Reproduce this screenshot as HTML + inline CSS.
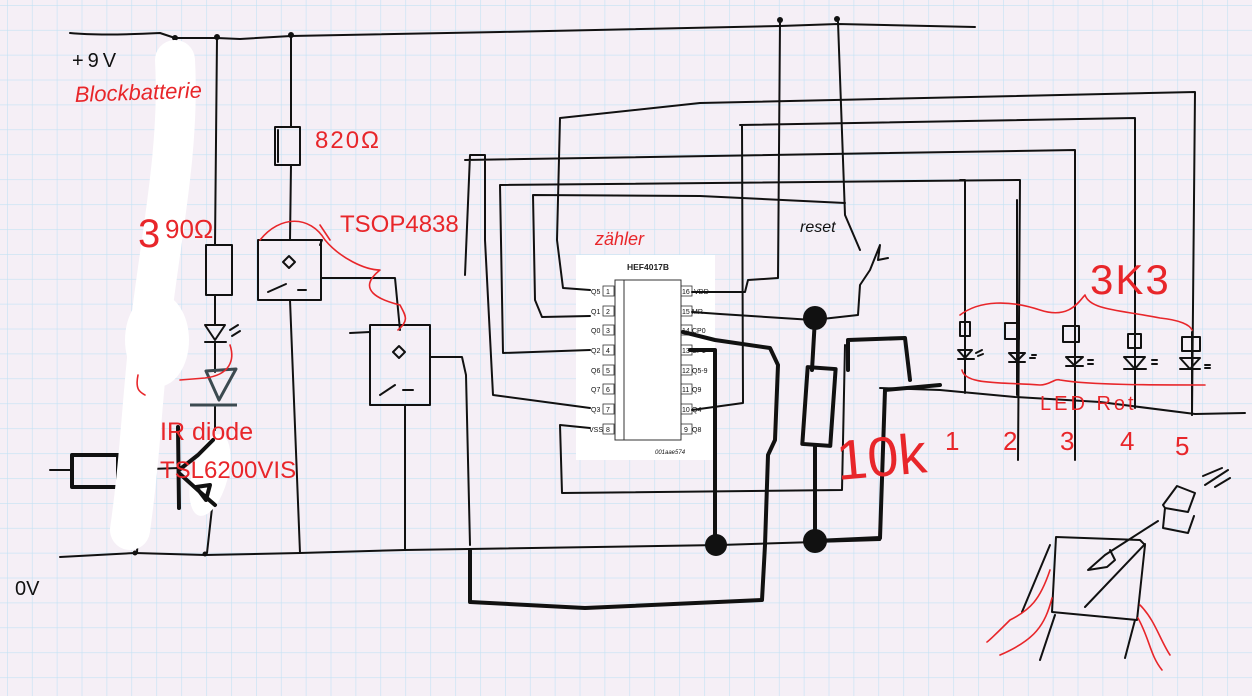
<!DOCTYPE html>
<html><head><meta charset="utf-8"><style>
html,body{margin:0;padding:0;background:#f5eff6;}
svg{display:block}
.k{fill:none;stroke:#111;stroke-width:2;stroke-linecap:round;stroke-linejoin:round}
.kb{fill:none;stroke:#111;stroke-width:4;stroke-linecap:round;stroke-linejoin:round}
.r{fill:none;stroke:#e8262a;stroke-width:1.6;stroke-linecap:round;stroke-linejoin:round}
.rt{fill:#e8262a;font-family:"Liberation Sans",sans-serif}
.ct{font-family:"Liberation Sans",sans-serif;font-size:7px;fill:#111}
</style></head><body>
<svg width="1252" height="696" viewBox="0 0 1252 696" xmlns="http://www.w3.org/2000/svg">
<defs>
<pattern id="g" x="7" y="5" width="24.9" height="24.9" patternUnits="userSpaceOnUse">
<path d="M0 0H24.9M0 0V24.9" stroke="#c3e2f4" stroke-width="1.2" fill="none"/>
</pattern>
</defs>
<rect width="1252" height="696" fill="#f5eff6"/>
<rect width="1252" height="696" fill="url(#g)"/>

<!-- rails -->
<path class="k" d="M70 33 Q100 36 160 33 L175 38 L217 38 L240 39 L291 36 L500 32 L780 26 L838 24 L975 27"/>
<path class="k" d="M60 557 L135 553 L205 555 L300 553 L405 550 L720 545 L815 542 L880 540"/>
<circle cx="175" cy="38" r="3" fill="#111"/><circle cx="217" cy="37" r="3" fill="#111"/><circle cx="291" cy="35" r="3" fill="#111"/>
<circle cx="780" cy="20" r="3" fill="#111"/><circle cx="837" cy="19" r="3" fill="#111"/>
<circle cx="135" cy="553" r="2.5" fill="#111"/><circle cx="205" cy="554" r="2.5" fill="#111"/>

<!-- left verticals -->
<path class="k" d="M217 38 L215 245 M215 295 L215 325 M215 342 L215 372 M215 405 L215 430"/>
<path class="k" d="M291 36 L291 127 M291 165 L290 240 M290 300 L300 553"/>
<path class="k" d="M175 40 L172 200 M138 530 L137 553"/>
<!-- 390 resistor -->
<rect class="k" x="206" y="245" width="26" height="50"/>
<!-- small LED -->
<path class="k" d="M205 325 L225 325 L215 340 Z M205 342 L226 342 M230 330 l8 -5 M232 336 l8 -5"/>
<!-- IR diode -->
<path d="M206 371 L236 369 L219 400 Z" fill="none" stroke="#3c4a50" stroke-width="3" stroke-linejoin="round"/>
<path d="M190 405 L237 405" stroke="#3c4a50" stroke-width="3" fill="none"/>
<!-- red arc near IR diode -->
<path class="r" d="M230 345 C235 360 230 375 205 378 L180 380"/>
<!-- transistor -->
<path class="k" d="M50 470 L72 470 M118 470 L180 468 M212 508 L207 553"/>
<rect class="kb" x="72" y="455" width="46" height="32"/>

<!-- white blob -->
<path d="M175 60 C180 150 160 240 150 330 C142 400 140 460 130 530" fill="none" stroke="#ffffff" stroke-width="40" stroke-linecap="round"/>
<ellipse cx="157" cy="340" rx="32" ry="47" fill="#fff"/>
<ellipse cx="210" cy="475" rx="18" ry="42" fill="#fff" transform="rotate(15 210 475)"/>

<path class="kb" d="M178 427 L179 508 M179 470 L198 455 L213 440"/>
<path class="kb" d="M180 474 L200 492 L215 505 M196 487 L210 485 L206 500 Z"/>

<!-- 820 resistor -->
<rect class="k" x="275" y="127" width="25" height="38"/>
<path class="k" d="M278 130 L278 162"/>
<!-- TSOP 1 -->
<rect class="k" x="258" y="240" width="63" height="60"/>
<path class="k" d="M283 262 l6 -6 l6 6 l-6 6 Z M268 292 l18 -8 M298 290 l8 0"/>
<path class="k" d="M321 278 L395 278 L400 330 M320 245 L322 240"/>
<!-- TSOP 2 -->
<rect class="k" x="370" y="325" width="60" height="80"/>
<path class="k" d="M393 352 l6 -6 l6 6 l-6 6 Z M380 395 l15 -10 M403 390 l10 0"/>
<path class="k" d="M430 357 L462 357 L466 375 L470 545 M405 405 L405 550 M350 333 L370 332"/>

<!-- chip -->
<rect x="576" y="255" width="139" height="205" fill="#ffffff"/>
<text x="627" y="270" font-family="Liberation Sans,sans-serif" font-size="8.5" font-weight="bold" fill="#222">HEF4017B</text>
<rect x="615" y="280" width="66" height="160" fill="none" stroke="#333" stroke-width="1"/>
<path d="M624 280 V440" stroke="#333" stroke-width="1"/>
<g class="ct">
<text x="591" y="294">Q5</text><text x="591" y="314">Q1</text><text x="591" y="333">Q0</text><text x="591" y="353">Q2</text>
<text x="591" y="373">Q6</text><text x="591" y="392">Q7</text><text x="591" y="412">Q3</text><text x="589" y="432">VSS</text>
<text x="694" y="294">VDD</text><text x="692" y="314">MR</text><text x="692" y="333">CP0</text><text x="692" y="353">CP1</text>
<text x="692" y="373">Q5-9</text><text x="692" y="392">Q9</text><text x="692" y="412">Q4</text><text x="692" y="432">Q8</text>
<text x="655" y="454" font-style="italic" font-size="6">001aae574</text>
</g>
<g fill="none" stroke="#333" stroke-width="0.8">
<rect x="603" y="286" width="11" height="10"/><rect x="603" y="306" width="11" height="10"/><rect x="603" y="325" width="11" height="10"/><rect x="603" y="345" width="11" height="10"/>
<rect x="603" y="365" width="11" height="10"/><rect x="603" y="384" width="11" height="10"/><rect x="603" y="404" width="11" height="10"/><rect x="603" y="424" width="11" height="10"/>
<rect x="681" y="286" width="11" height="10"/><rect x="681" y="306" width="11" height="10"/><rect x="681" y="325" width="11" height="10"/><rect x="681" y="345" width="11" height="10"/>
<rect x="681" y="365" width="11" height="10"/><rect x="681" y="384" width="11" height="10"/><rect x="681" y="404" width="11" height="10"/><rect x="681" y="424" width="11" height="10"/>
</g>
<g class="ct"><text x="606" y="294">1</text><text x="606" y="314">2</text><text x="606" y="333">3</text><text x="606" y="353">4</text><text x="606" y="373">5</text><text x="606" y="392">6</text><text x="606" y="412">7</text><text x="606" y="432">8</text>
<text x="682" y="294">16</text><text x="682" y="314">15</text><text x="682" y="333">14</text><text x="682" y="353">13</text><text x="682" y="373">12</text><text x="682" y="392">11</text><text x="682" y="412">10</text><text x="684" y="432">9</text></g>

<!-- wires around chip -->
<path class="k" d="M590 290 L563 288 L557 240 L560 118 L700 103 L1195 92 L1192 415"/>
<path class="k" d="M590 316 L542 317 L535 300 L533 195 L700 196 L845 203"/>
<path class="k" d="M590 350 L503 353 L500 185 L1020 180 L1018 460"/>
<path class="k" d="M590 408 L493 395 L485 240 L485 155 L470 155 L465 275 M465 160 L1075 150 L1075 460"/>
<path class="k" d="M590 428 L560 425 L562 493 L842 490 L845 345"/>
<path class="k" d="M740 125 L1135 118 L1135 345 M742 126 L743 403 L692 410"/>
<path class="k" d="M692 292 L745 292 L748 280 L778 278 L780 22"/>
<path class="k" d="M692 312 L720 314 L813 320 L858 315 L860 285 L870 270 L880 245 L878 260 L888 258"/>
<path class="k" d="M838 22 L845 215 L860 250"/>
<path class="k" d="M965 180 L965 325 M960 180 L965 180"/>
<!-- thick wires -->
<path class="kb" d="M683 332 L715 340 L770 348 L778 365 L775 440 L768 455 L765 545 L762 600 L585 608 L470 602 L470 550"/>
<path class="kb" d="M690 350 L715 350 L715 545"/>
<path class="kb" d="M815 318 L812 370 M815 445 L815 541 M815 541 L880 538 L885 390 L940 385 M848 370 L848 340 L905 338 L910 380"/>
<rect class="kb" x="805" y="368" width="28" height="77" transform="rotate(4 819 406)"/>
<circle cx="815" cy="318" r="12" fill="#111"/><circle cx="815" cy="541" r="12" fill="#111"/><circle cx="716" cy="545" r="11" fill="#111"/>
<path class="k" d="M880 388 L940 390 L1015 397 L1100 402 L1195 414 L1245 413"/>

<!-- LED columns -->
<g class="k">
<path d="M965 325 L965 393 M1017 200 L1017 395 M1075 345 L1075 398 M1135 345 L1135 408 M1192 332 L1192 415"/>
<rect x="960" y="322" width="10" height="14"/><rect x="1005" y="323" width="14" height="16"/><rect x="1063" y="326" width="16" height="16"/><rect x="1128" y="334" width="13" height="14"/><rect x="1182" y="337" width="18" height="14"/>
<path d="M958 350 L972 350 L965 358 Z M958 359 L974 359 M976 353 l6 -3 M978 356 l5 -2"/>
<path d="M1009 353 L1025 353 L1017 361 Z M1009 362 L1025 362 M1030 358 l5 0 M1032 355 l4 0"/>
<path d="M1066 357 L1083 357 L1074 365 Z M1066 366 L1083 366 M1088 360 l5 0 M1088 364 l5 0"/>
<path d="M1124 357 L1145 357 L1135 369 Z M1124 369 L1146 369 M1152 360 l5 0 M1152 364 l5 0"/>
<path d="M1180 358 L1200 358 L1190 369 Z M1180 369 L1200 369 M1205 365 l5 0 M1205 368 l5 0"/>
</g>

<!-- bottom right LED drawing -->
<g class="k">
<path d="M1056 537 L1140 540 L1145 545 L1137 620 L1052 612 Z M1050 545 L1022 612 M1055 615 L1040 660 M1135 620 L1125 658"/>
<path d="M1085 607 L1145 544 M1110 550 L1115 560 L1107 567 L1088 570 L1105 555 L1158 521"/>
<path d="M1163 505 L1177 486 L1195 493 L1188 512 L1165 508 Z M1165 508 L1163 528 L1188 533 L1194 516 M1203 476 L1222 468 M1205 485 L1228 470 M1215 487 L1230 478"/>
</g>
<g class="r">
<path d="M1050 570 C1040 600 1030 610 1010 620 C1000 630 990 640 987 642 M1052 598 C1045 625 1035 640 1000 655 M1140 605 C1155 620 1160 640 1170 655 M1138 618 C1150 640 1150 655 1162 670"/>
</g>

<!-- red labels -->
<g class="r" stroke-width="1.5">
<path d="M960 315 C980 300 1010 300 1040 310 C1070 320 1080 300 1085 295 C1090 310 1120 310 1160 318 C1180 320 1190 325 1192 330"/>
<path d="M962 370 C965 385 1000 382 1040 385 C1050 385 1055 378 1060 380 C1090 385 1150 385 1205 385"/>
<path d="M260 240 C280 215 310 215 325 240 C340 258 365 270 380 270 C355 290 380 300 400 305 C405 315 410 320 398 330 M320 225 L330 240"/>
<path d="M138 375 C135 390 140 392 145 395"/>
</g>
<text class="rt" x="75" y="102" font-size="22" font-style="italic" transform="rotate(-2 75 102)">Blockbatterie</text>
<text x="72" y="67" font-family="Liberation Sans,sans-serif" font-size="20" fill="#111" letter-spacing="4">+9V</text>
<text class="rt" x="138" y="247" font-size="40">3</text>
<text class="rt" x="165" y="238" font-size="26">90Ω</text>
<text class="rt" x="315" y="148" font-size="24" letter-spacing="2">820Ω</text>
<text class="rt" x="340" y="232" font-size="24">TSOP4838</text>
<text class="rt" x="595" y="245" font-size="18" font-style="italic">zähler</text>
<text x="800" y="232" font-family="Liberation Sans,sans-serif" font-size="16" fill="#111" font-style="italic">reset</text>
<text class="rt" x="1090" y="294" font-size="42" letter-spacing="2">3K3</text>
<text class="rt" x="1040" y="410" font-size="20" letter-spacing="3">LED Rot</text>
<text class="rt" x="838" y="480" font-size="56" transform="rotate(-5 838 480)">10k</text>
<text class="rt" x="160" y="440" font-size="25">IR diode</text>
<text class="rt" x="160" y="478" font-size="24">TSL6200VIS</text>
<g class="rt" font-size="26"><text x="945" y="450">1</text><text x="1003" y="450">2</text><text x="1060" y="450">3</text><text x="1120" y="450">4</text><text x="1175" y="455">5</text></g>
<text x="15" y="595" font-family="Liberation Sans,sans-serif" font-size="20" fill="#111">0V</text>
</svg>
</body></html>
